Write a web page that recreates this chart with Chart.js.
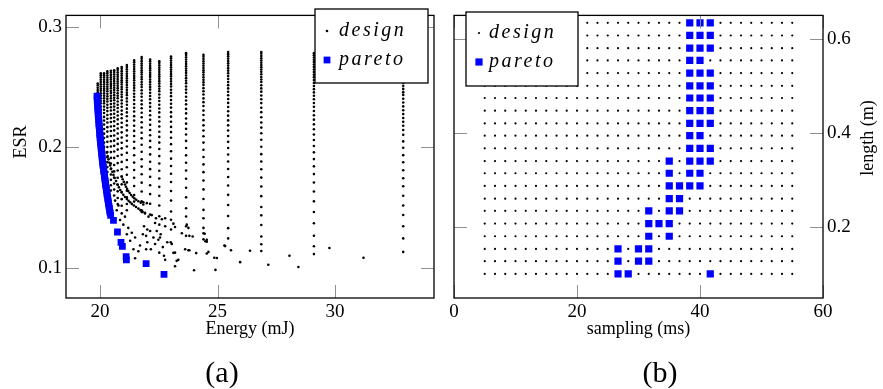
<!DOCTYPE html>
<html>
<head>
<meta charset="utf-8">
<script src="https://cdn.jsdelivr.net/npm/chart.js@4/dist/chart.umd.min.js"></script>
<style>
  html, body { margin: 0; padding: 0; background: #fff; width: 883px; height: 389px; overflow: hidden; }
  .panel { position: absolute; top: 0; height: 389px; }
  #panelA { left: 0; width: 440px; }
  #panelB { left: 440px; width: 443px; }
  .cap { position: absolute; top: 354px; width: 80px; text-align: center;
         font-family: "Liberation Serif", "Times New Roman", serif; font-size: 30px; line-height: 36px; color: #000; }
</style>
</head>
<body>
<div class="panel" id="panelA"><canvas id="chartA" width="440" height="389"></canvas></div>
<div class="panel" id="panelB"><canvas id="chartB" width="443" height="389"></canvas></div>
<div class="cap" style="left:182px">(a)</div>
<div class="cap" style="left:620px">(b)</div>
<script>
const SERIF = '"Liberation Serif", "Times New Roman", serif';

// ---------- (a) objective space: energy vs. ESR ----------
// energy of each vertical family of designs
const familyEnergy = [32.9, 29.1, 26.86, 25.45, 24.40, 23.66, 23.02, 22.52, 22.13, 21.77,
                      21.45, 21.14, 20.92, 20.75, 20.60, 20.46, 20.31, 20.17, 20.03, 19.90];
// ESR of the designs in each family
const familyEsr = [
  [0.2790,0.2772,0.2753,0.2734,0.2714,0.2694,0.2673,0.2652,0.2630,0.2607,0.2584,0.2560,0.2535,0.2510,0.2484,0.2457,0.2434,0.2402,0.2371,0.2339,0.2307,0.2275,0.2243,0.2211,0.2179,0.2143,0.2103,0.2049,0.1996,0.1935,0.1876,0.1810,0.1744,0.1677,0.1598,0.1518,0.1439,0.1346,0.1245,0.1133],
  [0.2780,0.2762,0.2744,0.2725,0.2706,0.2686,0.2666,0.2645,0.2624,0.2602,0.2580,0.2557,0.2533,0.2508,0.2482,0.2455,0.2427,0.2398,0.2367,0.2335,0.2301,0.2266,0.2229,0.2190,0.2149,0.2106,0.2060,0.2011,0.1958,0.1902,0.1842,0.1778,0.1708,0.1633,0.1552,0.1464,0.1370,0.1267,0.1180,0.1115],
  [0.2790,0.2775,0.2756,0.2737,0.2719,0.2700,0.2681,0.2663,0.2645,0.2625,0.2605,0.2583,0.2562,0.2541,0.2514,0.2488,0.2461,0.2429,0.2398,0.2366,0.2328,0.2291,0.2249,0.2206,0.2163,0.2116,0.2063,0.2004,0.1943,0.1882,0.1818,0.1749,0.1675,0.1595,0.1505,0.1436,0.1356,0.1261,0.1197,0.1141],
  [0.2790,0.2772,0.2754,0.2735,0.2716,0.2697,0.2677,0.2656,0.2635,0.2613,0.2590,0.2566,0.2541,0.2515,0.2488,0.2460,0.2431,0.2400,0.2368,0.2334,0.2299,0.2262,0.2223,0.2182,0.2139,0.2093,0.2045,0.1994,0.1940,0.1882,0.1820,0.1754,0.1683,0.1606,0.1522,0.1430,0.1330,0.1245],
  [0.2766,0.2751,0.2732,0.2713,0.2695,0.2676,0.2657,0.2639,0.2621,0.2601,0.2581,0.2559,0.2538,0.2517,0.2490,0.2464,0.2437,0.2405,0.2374,0.2342,0.2304,0.2267,0.2225,0.2182,0.2139,0.2092,0.2039,0.1980,0.1919,0.1858,0.1794,0.1725,0.1651,0.1571,0.1481,0.1412,0.1332,0.1237],
  [0.2780,0.2765,0.2746,0.2727,0.2709,0.2690,0.2671,0.2653,0.2635,0.2615,0.2595,0.2573,0.2552,0.2531,0.2504,0.2478,0.2451,0.2419,0.2388,0.2356,0.2318,0.2281,0.2239,0.2196,0.2153,0.2106,0.2053,0.1994,0.1933,0.1872,0.1808,0.1739,0.1665,0.1585,0.1495,0.1426,0.1346,0.1266],
  [0.2753,0.2738,0.2719,0.2700,0.2682,0.2663,0.2644,0.2626,0.2608,0.2588,0.2568,0.2546,0.2525,0.2504,0.2477,0.2451,0.2424,0.2392,0.2361,0.2329,0.2291,0.2254,0.2212,0.2169,0.2126,0.2079,0.2026,0.1967,0.1906,0.1845,0.1781,0.1712,0.1638,0.1558,0.1468,0.1399,0.1319],
  [0.2713,0.2698,0.2679,0.2660,0.2642,0.2623,0.2604,0.2586,0.2568,0.2548,0.2528,0.2506,0.2485,0.2464,0.2437,0.2411,0.2384,0.2352,0.2321,0.2289,0.2251,0.2214,0.2172,0.2129,0.2086,0.2039,0.1986,0.1927,0.1866,0.1805,0.1741,0.1672,0.1598,0.1518,0.1428,0.1359],
  [0.2727,0.2712,0.2693,0.2674,0.2656,0.2637,0.2618,0.2600,0.2582,0.2562,0.2542,0.2520,0.2499,0.2478,0.2451,0.2425,0.2398,0.2366,0.2335,0.2303,0.2265,0.2228,0.2186,0.2143,0.2100,0.2053,0.2000,0.1941,0.1880,0.1819,0.1755,0.1686,0.1612,0.1532,0.1442],
  [0.2748,0.2733,0.2714,0.2695,0.2677,0.2658,0.2639,0.2621,0.2603,0.2583,0.2563,0.2541,0.2520,0.2499,0.2472,0.2446,0.2419,0.2387,0.2356,0.2324,0.2286,0.2249,0.2207,0.2164,0.2121,0.2074,0.2021,0.1962,0.1901,0.1840,0.1776,0.1707,0.1633,0.1553,0.1463],
  [0.2720,0.2705,0.2686,0.2667,0.2649,0.2630,0.2611,0.2593,0.2575,0.2555,0.2535,0.2513,0.2492,0.2471,0.2444,0.2418,0.2391,0.2359,0.2328,0.2296,0.2258,0.2221,0.2179,0.2136,0.2093,0.2046,0.1993,0.1934,0.1873,0.1812,0.1748,0.1679,0.1605,0.1550],
  [0.2681,0.2666,0.2647,0.2628,0.2610,0.2591,0.2572,0.2554,0.2536,0.2516,0.2496,0.2474,0.2453,0.2432,0.2405,0.2379,0.2352,0.2320,0.2289,0.2257,0.2219,0.2182,0.2140,0.2097,0.2054,0.2007,0.1954,0.1895,0.1834,0.1773,0.1709,0.1640,0.1585,0.1530,0.1478],
  [0.2665,0.2650,0.2631,0.2612,0.2594,0.2575,0.2556,0.2538,0.2520,0.2500,0.2480,0.2458,0.2437,0.2416,0.2389,0.2363,0.2336,0.2304,0.2273,0.2241,0.2203,0.2166,0.2124,0.2081,0.2038,0.1991,0.1938,0.1879,0.1818,0.1757,0.1693,0.1630,0.1570,0.1515],
  [0.2655,0.2640,0.2621,0.2602,0.2584,0.2565,0.2546,0.2528,0.2510,0.2490,0.2470,0.2448,0.2427,0.2406,0.2379,0.2353,0.2326,0.2294,0.2263,0.2231,0.2193,0.2156,0.2114,0.2071,0.2028,0.1981,0.1928,0.1869,0.1808,0.1747,0.1690,0.1635,0.1580,0.1530],
  [0.2639,0.2624,0.2605,0.2586,0.2568,0.2549,0.2530,0.2512,0.2494,0.2474,0.2454,0.2432,0.2411,0.2390,0.2363,0.2337,0.2310,0.2278,0.2247,0.2215,0.2177,0.2140,0.2098,0.2055,0.2012,0.1965,0.1912,0.1853,0.1800,0.1750,0.1700,0.1650,0.1600],
  [0.2634,0.2619,0.2600,0.2581,0.2563,0.2544,0.2525,0.2507,0.2489,0.2469,0.2449,0.2427,0.2406,0.2385,0.2358,0.2332,0.2305,0.2273,0.2242,0.2210,0.2172,0.2135,0.2093,0.2050,0.2007,0.1960,0.1912,0.1866,0.1820,0.1775,0.1730,0.1686,0.1642],
  [0.2629,0.2614,0.2595,0.2576,0.2558,0.2539,0.2520,0.2502,0.2484,0.2464,0.2444,0.2422,0.2401,0.2380,0.2353,0.2327,0.2300,0.2268,0.2237,0.2205,0.2167,0.2130,0.2088,0.2045,0.2002,0.1960,0.1918,0.1877,0.1836,0.1796],
  [0.2613,0.2598,0.2579,0.2560,0.2542,0.2523,0.2504,0.2486,0.2468,0.2448,0.2428,0.2406,0.2385,0.2364,0.2337,0.2311,0.2284,0.2252,0.2221,0.2189,0.2151,0.2113,0.2076,0.2039,0.2002,0.1966,0.1930,0.1895],
  [0.2613,0.2598,0.2579,0.2560,0.2542,0.2523,0.2504,0.2486,0.2468,0.2448,0.2428,0.2406,0.2385,0.2364,0.2337,0.2311,0.2284,0.2252,0.2221,0.2189,0.2151,0.2113,0.2076],
  [0.2528,0.2513,0.2494,0.2475,0.2457,0.2440]
];
// scattered designs below and between the families
const looseEnergy = [29.76,31.21,28.44,28.06,27.16,26.38,25.96,25.57,25.32,24.91,24.86,24.48,24.45,24.09,24.00,23.76,23.26,23.19,23.12,22.86,22.55,22.52,25.29,24.97,
  21.84,21.99,21.77,21.91,22.06,22.20,22.38,22.63,22.77,22.34,22.77,23.12,23.19,23.69,23.76,21.87,22.01,22.13,22.41,22.58,21.82,21.96,22.27,22.48,23.01,23.05,
  23.48,23.80,23.94,24.40,24.54,24.54,22.01,22.34,22.67,23.19,23.62,23.80,24.54,24.61,21.96,22.16,22.72,22.77,23.33,
  20.64,20.78,20.71,20.92,21.06,20.85,20.99,21.20,21.14,21.35,21.49,21.28,21.42,21.63,21.49,21.70];
const looseEsr = [0.1165,0.1085,0.1008,0.1101,0.1027,0.1143,0.1048,0.1147,0.1181,0.0984,0.1085,0.1221,0.1284,0.1123,0.0981,0.1147,0.1059,0.1014,0.1125,0.1213,0.1253,0.1127,0.1186,0.1082,
  0.1545,0.1537,0.1478,0.1457,0.1425,0.1438,0.1412,0.1404,0.1412,0.1372,0.1346,0.1367,0.1340,0.1359,0.1332,0.1346,0.1319,0.1306,0.1306,0.1279,0.1279,0.1266,0.1253,0.1234,0.1213,0.1199,
  0.1287,0.1266,0.1261,0.1287,0.1234,0.1218,0.1213,0.1199,0.1173,0.1127,0.1155,0.1147,0.1120,0.1133,0.1155,0.1155,0.1101,0.1067,0.1067,
  0.1558,0.1518,0.1478,0.1452,0.1425,0.1398,0.1359,0.1332,0.1279,0.1292,0.1253,0.1226,0.1155,0.1139,0.1080,0.1186];
// dense trails of designs just behind the front
const trailEnergy = [20.28,20.32,20.36,20.40,20.43,20.47,20.52,20.57,20.62,20.68,20.74,20.80,20.86,20.92,20.99,21.06,21.14,21.21,21.28,21.35,21.44,21.53,21.63,21.72,21.81,21.91,
  20.92,20.96,21.01,21.06,21.10,21.15,21.20,21.26,21.32,21.39,21.46,21.54,21.63,21.73,21.84];
const trailEsr = [0.1956,0.1928,0.1900,0.1872,0.1850,0.1824,0.1797,0.1771,0.1746,0.1720,0.1691,0.1668,0.1646,0.1625,0.1606,0.1588,0.1571,0.1557,0.1544,0.1531,0.1518,0.1505,0.1492,0.1479,0.1465,0.1452,
  0.1757,0.1735,0.1713,0.1691,0.1673,0.1655,0.1637,0.1621,0.1605,0.1590,0.1577,0.1565,0.1553,0.1540,0.1526];
// Pareto-optimal designs
const paretoEnergy = [19.87,19.88,19.88,19.89,19.90,19.90,19.91,19.92,19.92,19.93,19.94,19.95,19.95,19.96,19.97,19.98,19.99,19.99,20.00,20.01,20.02,20.03,20.04,20.05,20.06,20.07,
  20.08,20.09,20.10,20.11,20.12,20.14,20.15,20.16,20.18,20.19,20.20,20.22,20.23,20.24,20.26,20.27,20.29,20.30,20.32,20.33,20.35,20.36,20.38,20.40,20.41,20.43,20.45,
  20.57,20.74,20.89,20.95,21.11,21.12,21.96,22.72];
const paretoEsr = [0.2424,0.2407,0.2388,0.2371,0.2350,0.2332,0.2311,0.2294,0.2272,0.2255,0.2233,0.2216,0.2195,0.2178,0.2157,0.2140,0.2119,0.2102,0.2080,0.2064,0.2043,0.2026,0.2004,0.1988,0.1967,0.1950,
  0.1929,0.1912,0.1890,0.1874,0.1853,0.1836,0.1814,0.1798,0.1776,0.1760,0.1739,0.1722,0.1700,0.1684,0.1663,0.1646,0.1624,0.1608,0.1587,0.1570,0.1549,0.1532,0.1511,0.1494,0.1473,0.1457,0.1436,
  0.1394,0.1298,0.1212,0.1178,0.1093,0.1067,0.1035,0.0947];
const energyTicks = [20, 25, 30];
const esrTicks = [0.1, 0.2, 0.3];

// ---------- (b) design space: sampling period vs. length ----------
const samplingValues = [5,6.67,8.33,10,11.67,13.33,15,16.67,18.33,20,21.67,23.33,25,26.67,28.33,30,31.67,33.33,35,36.67,38.33,40,41.67,43.33,45,46.67,48.33,50,51.67,53.33,55];
const lengthValues = [0.1,0.127,0.153,0.18,0.207,0.234,0.26,0.287,0.314,0.34,0.367,0.394,0.42,0.447,0.474,0.5,0.527,0.554,0.58,0.607,0.634];
const paretoSampling = [38.33,40,41.67, 38.33,40,41.67, 38.33,40,41.67, 38.33,40, 38.33,40,41.67, 38.33,40,41.67, 38.33,40,41.67,
  38.33,40,41.67, 38.33,40,41.67, 38.33,40, 38.33,40,41.67, 35,38.33,40,41.67, 35,38.33,40, 35,36.67,38.33,40, 35,36.67,
  31.67,35,36.67, 31.67,33.33,35, 31.67,35, 26.67,30,31.67, 26.67,30,31.67, 26.67,28.33,41.67];
const paretoLength = [0.634,0.634,0.634, 0.607,0.607,0.607, 0.58,0.58,0.58, 0.554,0.554, 0.527,0.527,0.527, 0.5,0.5,0.5, 0.474,0.474,0.474,
  0.447,0.447,0.447, 0.42,0.42,0.42, 0.394,0.394, 0.367,0.367,0.367, 0.34,0.34,0.34,0.34, 0.314,0.314,0.314, 0.287,0.287,0.287,0.287, 0.26,0.26,
  0.234,0.234,0.234, 0.207,0.207,0.207, 0.18,0.18, 0.153,0.153,0.153, 0.127,0.127,0.127, 0.1,0.1,0.1];
const samplingTicks = [0, 20, 40, 60];
const lengthTicks = [0.2, 0.4, 0.6];

// ---------- assemble point lists ----------
const designA = [];
familyEnergy.forEach((e, i) => familyEsr[i].forEach(r => designA.push({ x: e, y: r })));
looseEnergy.forEach((e, i) => designA.push({ x: e, y: looseEsr[i] }));
trailEnergy.forEach((e, i) => designA.push({ x: e, y: trailEsr[i] }));
const paretoA = paretoEnergy.map((e, i) => ({ x: e, y: paretoEsr[i] }));

const designB = [];
lengthValues.forEach(l => samplingValues.forEach(s => designB.push({ x: s, y: l })));
const paretoB = paretoSampling.map((s, i) => ({ x: s, y: paretoLength[i] }));

// ---------- drawing helpers ----------
const tickFont = { family: SERIF, size: 19 };
const titleFont = { family: SERIF, size: 18 };

// frame, inward tick marks on all sides, rotated y title and boxed legend
const pgfFrame = {
  id: 'pgfFrame',
  afterDraw(chart, args, opts) {
    const { ctx, chartArea: a, scales } = chart;
    ctx.save();
    ctx.strokeStyle = '#909090';
    ctx.lineWidth = 1;
    const L = 13;
    ctx.beginPath();
    scales.x.ticks.forEach(t => {
      const px = Math.round(scales.x.getPixelForValue(t.value)) + 0.5;
      ctx.moveTo(px, a.bottom); ctx.lineTo(px, a.bottom - L);
      ctx.moveTo(px, a.top); ctx.lineTo(px, a.top + L);
    });
    scales.y.ticks.forEach(t => {
      const py = Math.round(scales.y.getPixelForValue(t.value)) + 0.5;
      ctx.moveTo(a.left, py); ctx.lineTo(a.left + L, py);
      ctx.moveTo(a.right, py); ctx.lineTo(a.right - L, py);
    });
    ctx.stroke();
    ctx.strokeStyle = '#000';
    ctx.lineWidth = 1.3;
    ctx.strokeRect(a.left, a.top, a.right - a.left, a.bottom - a.top);

    // y axis title, reading bottom to top
    ctx.save();
    ctx.translate(opts.yTitle.x, opts.yTitle.y);
    ctx.rotate(-Math.PI / 2);
    ctx.font = '18px ' + SERIF;
    ctx.fillStyle = '#000';
    ctx.textAlign = 'center';
    ctx.textBaseline = 'middle';
    ctx.fillText(opts.yTitle.text, 0, 0);
    ctx.restore();

    // legend
    const b = opts.legend;
    ctx.fillStyle = '#fff';
    ctx.fillRect(b.x, b.y, b.w, b.h);
    ctx.strokeStyle = '#000';
    ctx.lineWidth = 1.3;
    ctx.strokeRect(b.x, b.y, b.w, b.h);
    ctx.font = 'italic 20px ' + SERIF;
    ctx.letterSpacing = '2.5px';
    ctx.textAlign = 'left';
    ctx.textBaseline = 'middle';
    chart.data.datasets.forEach((ds, i) => {
      const y = b.rows[i];
      ctx.fillStyle = ds.backgroundColor;
      if (ds.pointStyle === 'rect') {
        const s = ds.pointRadius * Math.SQRT2;
        ctx.fillRect(b.marker - s / 2, y - s / 2, s, s);
      } else {
        ctx.beginPath();
        ctx.arc(b.marker, y, ds.pointRadius, 0, Math.PI * 2);
        ctx.fill();
      }
      ctx.fillStyle = '#000';
      ctx.fillText(ds.label, b.text, y);
    });
    ctx.restore();
  }
};

function axis(opts) {
  return Object.assign({
    type: 'linear',
    grid: { display: false, drawTicks: false },
    border: { display: false }
  }, opts);
}

// ---------- chart (a) ----------
new Chart(document.getElementById('chartA'), {
  type: 'scatter',
  data: {
    datasets: [
      { label: 'design', data: designA, order: 1, pointStyle: 'circle', pointRadius: 1.3,
        pointBorderWidth: 0, backgroundColor: '#000', borderColor: '#000' },
      { label: 'pareto', data: paretoA, order: 0, pointStyle: 'rect', pointRadius: 4.8,
        pointBorderWidth: 0, backgroundColor: '#0000ff', borderColor: '#0000ff' }
    ]
  },
  options: {
    responsive: false, animation: false, devicePixelRatio: 1,
    layout: { padding: { left: 0, right: 6, top: 4, bottom: 49 } },
    plugins: {
      legend: { display: false }, tooltip: { enabled: false },
      pgfFrame: {
        yTitle: { text: 'ESR', x: 21, y: 142 },
        legend: { x: 315, y: 9, w: 113, h: 74, marker: 327, text: 339, rows: [31, 60] }
      }
    },
    scales: {
      x: axis({
        min: 18.55, max: 34.21,
        afterBuildTicks: s => { s.ticks = energyTicks.map(v => ({ value: v })); },
        afterFit: s => { s.height = 42; },
        ticks: { font: tickFont, color: '#000', padding: 3, maxRotation: 0, callback: v => String(v) },
        title: { display: true, text: 'Energy (mJ)', font: titleFont, color: '#000', padding: { top: 0, bottom: 0 } }
      }),
      y: axis({
        min: 0.0751, max: 0.3093,
        afterBuildTicks: s => { s.ticks = esrTicks.map(v => ({ value: v })); },
        afterFit: s => { s.width = 66; },
        ticks: { font: tickFont, color: '#000', padding: 4, callback: v => String(v) }
      })
    }
  },
  plugins: [pgfFrame]
});

// ---------- chart (b) ----------
new Chart(document.getElementById('chartB'), {
  type: 'scatter',
  data: {
    datasets: [
      { label: 'design', data: designB, order: 1, pointStyle: 'circle', pointRadius: 1.1,
        pointBorderWidth: 0, backgroundColor: '#000', borderColor: '#000' },
      { label: 'pareto', data: paretoB, order: 0, pointStyle: 'rect', pointRadius: 5.1,
        pointBorderWidth: 0, backgroundColor: '#0000ff', borderColor: '#0000ff' }
    ]
  },
  options: {
    responsive: false, animation: false, devicePixelRatio: 1,
    layout: { padding: { left: 14, right: 0, top: 4, bottom: 49 } },
    plugins: {
      legend: { display: false }, tooltip: { enabled: false },
      pgfFrame: {
        yTitle: { text: 'length (m)', x: 428, y: 138 },
        legend: { x: 26, y: 12, w: 112, h: 74, marker: 39, text: 49, rows: [33, 62] }
      }
    },
    scales: {
      x: axis({
        min: 0, max: 60,
        afterBuildTicks: s => { s.ticks = samplingTicks.map(v => ({ value: v })); },
        afterFit: s => { s.height = 42; },
        ticks: { font: tickFont, color: '#000', padding: 3, maxRotation: 0, callback: v => String(v) },
        title: { display: true, text: 'sampling (ms)', font: titleFont, color: '#000', padding: { top: 0, bottom: 0 } }
      }),
      y: axis({
        position: 'right',
        min: 0.0487, max: 0.6497,
        afterBuildTicks: s => { s.ticks = lengthTicks.map(v => ({ value: v })); },
        afterFit: s => { s.width = 60; },
        ticks: { font: tickFont, color: '#000', padding: 4, callback: v => String(v) }
      })
    }
  },
  plugins: [pgfFrame]
});
</script>
</body>
</html>
